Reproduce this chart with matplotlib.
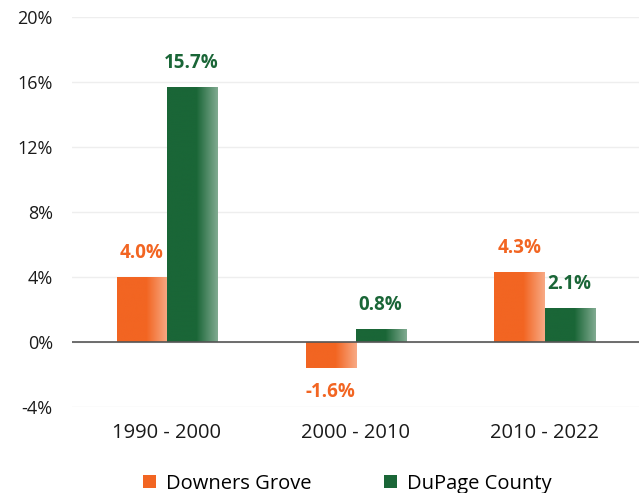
import numpy as np
import matplotlib.pyplot as plt
from matplotlib.colors import to_rgb
from matplotlib.patches import Patch

periods = ['1990 - 2000', '2000 - 2010', '2010 - 2022']
downers_grove = [4.0, -1.6, 4.3]
dupage_county = [15.7, 0.8, 2.1]
series_names = ['Downers Grove', 'DuPage County']
colors = ['#F26522', '#1A6637']
yticks = [-4, 0, 4, 8, 12, 16, 20]

plt.rcParams['font.family'] = ['Open Sans', 'DejaVu Sans']


def fade_bar(ax, rect, color):
    # solid for the left part, fading towards white on the right
    x0, y0 = rect.get_x(), rect.get_y()
    w, h = rect.get_width(), rect.get_height()
    rgb = np.array(to_rgb(color))
    t = np.linspace(0, 1, 200)
    k = np.clip((t - 0.58) / 0.42, 0, 1) * 0.45
    row = rgb[None, :] * (1 - k[:, None]) + k[:, None]
    img = np.repeat(row[None, :, :], 2, axis=0)
    ybot, ytop = (y0, y0 + h) if h >= 0 else (y0 + h, y0)
    im = ax.imshow(img, extent=(x0, x0 + w, ybot, ytop), aspect='auto',
                   interpolation='bilinear', zorder=3)
    im.set_clip_path(rect)


fig = plt.figure(figsize=(6.39, 4.93), dpi=100)
ax = fig.add_axes([0.113, 0.175, 0.887, 0.79])

x = np.arange(len(periods))
width = 0.265
for i, (vals, name) in enumerate(zip([downers_grove, dupage_county], series_names)):
    offs = (i - 0.5) * width
    rects = ax.bar(x + offs, vals, width, color=colors[i], zorder=2, label=name)
    for rect, v in zip(rects, vals):
        fade_bar(ax, rect, colors[i])
        cx = rect.get_x() + rect.get_width() / 2
        if v >= 0:
            ax.annotate('{:.1f}%'.format(v), xy=(cx, v), xytext=(0, 10),
                        textcoords='offset points', ha='center', va='bottom',
                        color=colors[i], fontsize=13.5, fontweight='bold')
        else:
            ax.annotate('{:.1f}%'.format(v), xy=(cx, v), xytext=(0, -10),
                        textcoords='offset points', ha='center', va='top',
                        color=colors[i], fontsize=13.5, fontweight='bold')

ax.set_xlim(-0.5, 2.5)
ax.set_ylim(-4, 20)
ax.set_yticks(yticks)
ax.set_yticklabels(['{}%'.format(t) for t in yticks])
ax.set_xticks(x)
ax.set_xticklabels(periods)
ax.tick_params(axis='both', length=0, labelsize=13, colors='#1a1a1a')
ax.tick_params(axis='x', labelsize=14.5, pad=12)
ax.tick_params(axis='y', pad=14)
for s in ax.spines.values():
    s.set_visible(False)
ax.grid(axis='y', color='#eeeeee', linewidth=1, zorder=0)
ax.set_axisbelow(True)
ax.axhline(0, color='#555555', linewidth=1.2, zorder=4)

handles = [Patch(facecolor=c, label=n) for c, n in zip(colors, series_names)]
fig.legend(handles=handles, loc='lower center', bbox_to_anchor=(0.543, -0.038),
           ncol=2, frameon=False, fontsize=14.5, handlelength=0.65,
           handleheight=0.65, handletextpad=0.5, columnspacing=3.6)

fig.savefig('out.png', dpi=100)
